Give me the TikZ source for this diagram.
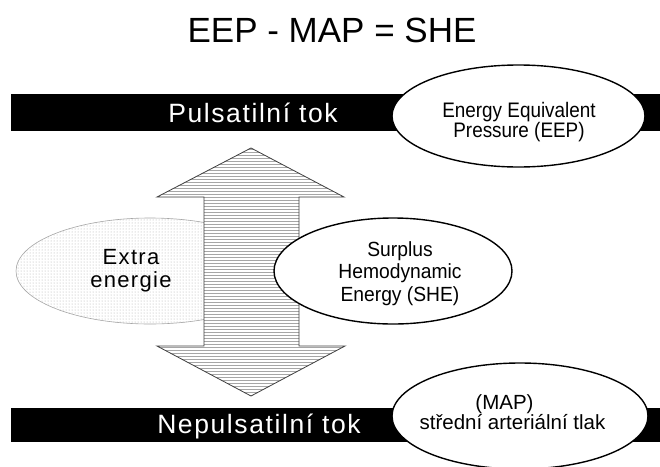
\documentclass[tikz,border=0pt]{standalone}
\usepackage{fontspec}
\setmainfont{Liberation Sans}
\newfontfamily\narrowsans[FakeStretch=0.9]{Liberation Sans}
\newfontfamily\semisans[FakeStretch=0.94]{Liberation Sans}
\usetikzlibrary{shapes.geometric,patterns}
\begin{document}
\begin{tikzpicture}[x=1pt,y=-1pt,
  barfill/.style={fill=black,draw=none},
  bartext/.style={text=white,anchor=base,inner sep=0pt,font=\fontsize{26.5}{30}\selectfont\addfontfeature{LetterSpace=6}},
  oval/.style={ellipse,draw=black,line width=1.4pt,fill=white,inner sep=0pt},
  ovaltext/.style={align=center,inner sep=0pt},
  dotoval/.style={ellipse,draw=gray!70,line width=0.6pt,inner sep=0pt,
    preaction={fill=white},pattern=dots,pattern color=gray!65},
  hatch/.style={draw=gray!70,line width=1pt},
  arrowline/.style={draw=black!75,line width=0.8pt}]
\useasboundingbox (0,0) rectangle (660,466);
% title
\node[anchor=base,inner sep=0pt,font=\fontsize{35}{40}\selectfont] (title) at (332,42) {EEP - MAP = SHE};
% bars
\fill[barfill] (10.7,94.3) rectangle (660,130.7);
\fill[barfill] (10.7,407.7) rectangle (660,442);
\node[bartext] (puls) at (253,122) {Pulsatilní tok};
\node[bartext] (nepuls) at (259,433) {Nepulsatilní tok};
% extra energie ellipse (under the arrow)
\node[dotoval,minimum width=268pt,minimum height=106pt] (extra) at (150,271) {};
\node[ovaltext,font=\fontsize{22}{23}\selectfont\addfontfeature{LetterSpace=6}] (extratext) at (131,270.5) {Extra\\energie};
% double arrow
\coordinate (tt) at (251,148);
\coordinate (tb) at (251,396);
\begin{scope}
  \clip (tt) -- (344,197) -- (299,197) -- (299,346) -- (345,346) -- (tb) -- (157,346) -- (204,346) -- (204,197) -- (157,197) -- cycle;
  \fill[white] (150,140) rectangle (350,400);
  \foreach \yy in {149.5,152.5,...,397} \draw[hatch] (150,\yy) -- (350,\yy);
\end{scope}
\draw[arrowline] (tt) -- (344,197) -- (299,197) -- (299,346) -- (345,346) -- (tb) -- (157,346) -- (204,346) -- (204,197) -- (157,197) -- cycle;
% SHE ellipse
\node[oval,minimum width=238pt,minimum height=106pt] (she) at (393,271) {};
\node[ovaltext,font=\semisans\fontsize{20.5}{22.5}\selectfont] (shetext) at (400,273.5) {Surplus\\Hemodynamic\\Energy (SHE)};
% EEP ellipse
\node[oval,minimum width=253pt,minimum height=102pt] (eep) at (518.5,116) {};
\node[ovaltext,font=\narrowsans\fontsize{21}{20.5}\selectfont] (eeptext) at (519,122) {Energy Equivalent\\Pressure (EEP)};
% MAP ellipse
\node[oval,minimum width=256pt,minimum height=106pt] (map) at (520,416) {};
\node[ovaltext,font=\fontsize{20.5}{20}\selectfont] (maptext) at (512.5,412.5) {(MAP)\hspace*{16pt}\\střední arteriální tlak};
\end{tikzpicture}
\end{document}
